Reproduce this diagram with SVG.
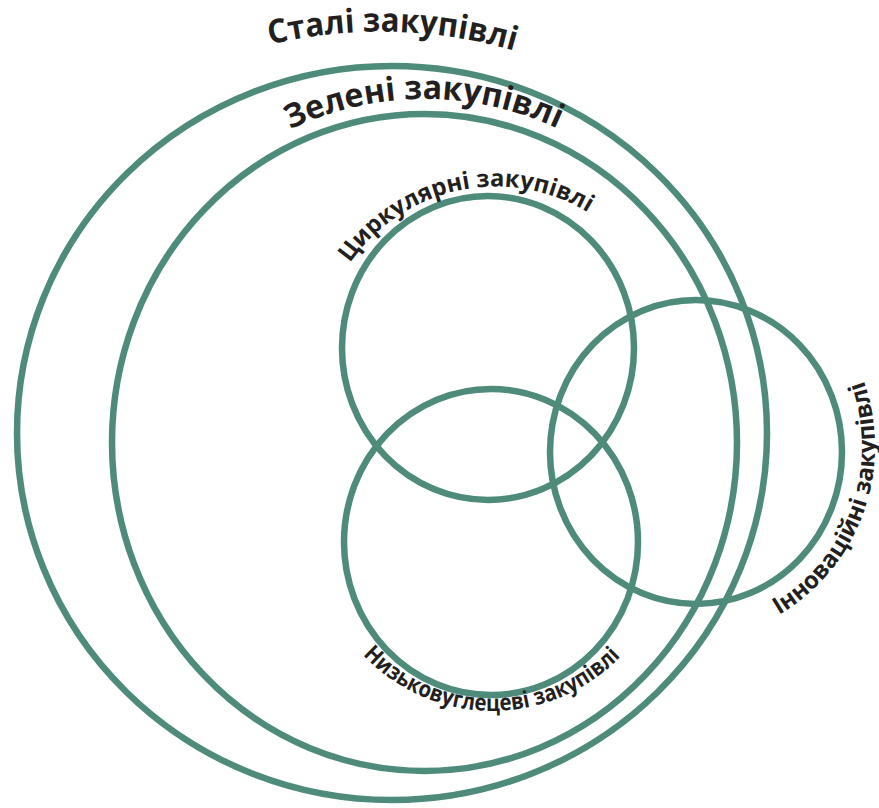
<svg xmlns="http://www.w3.org/2000/svg" width="879" height="808" viewBox="0 0 879 808">
  <style>
    .ring { fill: none; stroke: #4e8b7b; stroke-width: 6.5; }
    .label { font-family: "Open Sans", "Noto Sans", sans-serif; font-weight: 700; fill: #231f20; }
    .big { font-size: 33px; }
    .small { font-size: 24px; }
    .narrow { font-size: 23px; }
  </style>
  <defs>
    <!-- baselines for the curved labels -->
    <path id="arc-sustainable" d="M270,44.5 A480,480 0 0 1 517,51.5"/>
    <path id="arc-green" d="M290,129.3 A327.5,343.5 0 0 1 560,129.8"/>
    <path id="arc-circular" d="M350,263 A177,177 0 0 1 592,215"/>
    <path id="arc-lowcarbon" d="M363,655 A178,178 0 0 0 622,655"/>
    <path id="arc-innovation" d="M779,615 A196,196 0 0 0 862,376"/>
  </defs>
  <rect width="879" height="808" fill="#ffffff"/>

  <g id="sustainable">
    <ellipse class="ring" cx="392" cy="433" rx="375" ry="367"/>
    <text class="label big"><textPath href="#arc-sustainable" textLength="247" lengthAdjust="spacingAndGlyphs">Сталі закупівлі</textPath></text>
  </g>

  <g id="green">
    <ellipse class="ring" cx="424.5" cy="442.5" rx="312.5" ry="328.5"/>
    <text class="label big"><textPath href="#arc-green" textLength="276" lengthAdjust="spacingAndGlyphs">Зелені закупівлі</textPath></text>
  </g>

  <g id="circular">
    <ellipse class="ring" cx="488" cy="348" rx="146" ry="152"/>
    <text class="label small"><textPath href="#arc-circular" textLength="268" lengthAdjust="spacingAndGlyphs">Циркулярні закупівлі</textPath></text>
  </g>

  <g id="lowcarbon">
    <ellipse class="ring" cx="491" cy="542" rx="147" ry="153"/>
    <text class="label narrow"><textPath href="#arc-lowcarbon" textLength="288" lengthAdjust="spacingAndGlyphs">Низьковуглецеві закупівлі</textPath></text>
  </g>

  <g id="innovation">
    <ellipse class="ring" cx="696" cy="452" rx="146" ry="152"/>
    <text class="label small"><textPath href="#arc-innovation" textLength="270" lengthAdjust="spacingAndGlyphs">Інноваційні закупівлі</textPath></text>
  </g>
</svg>
